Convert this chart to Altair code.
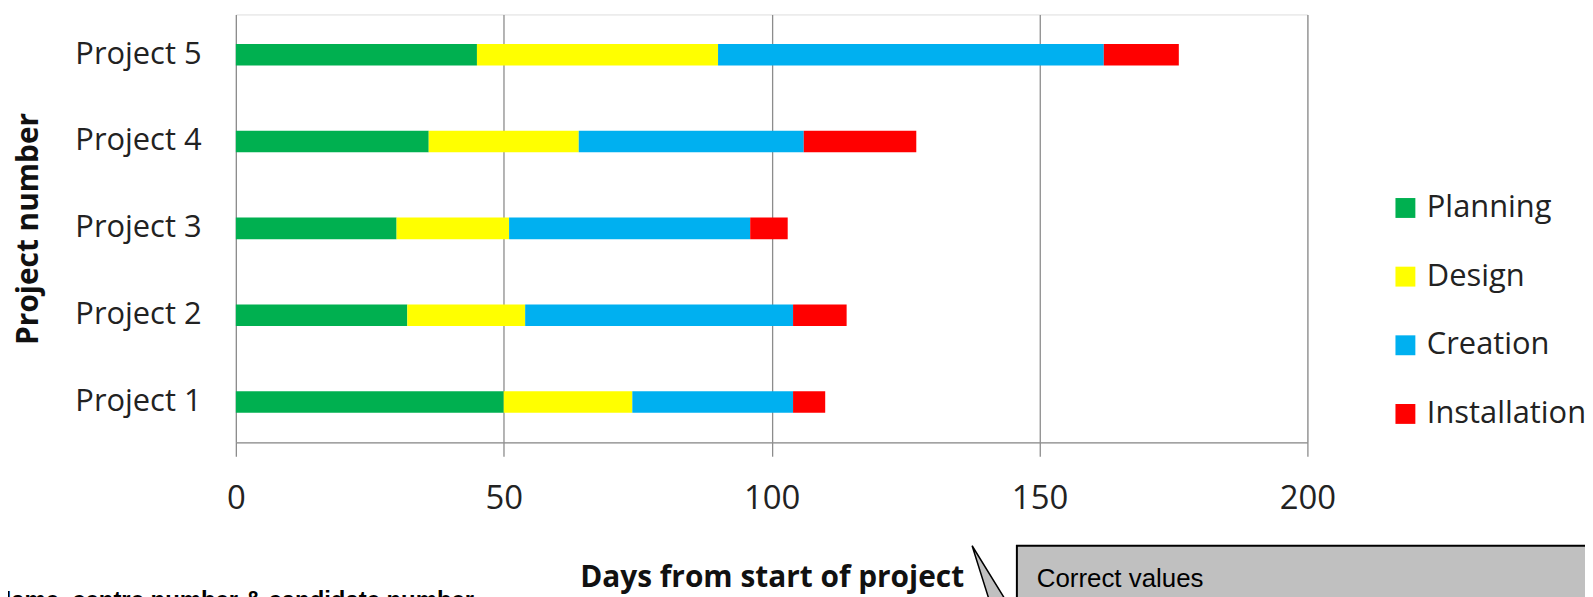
import altair as alt
import pandas as pd

projects = ["Project 1", "Project 2", "Project 3", "Project 4", "Project 5"]
phases = ["Planning", "Design", "Creation", "Installation"]
planning = [50, 32, 30, 36, 45]
design = [24, 22, 21, 28, 45]
creation = [30, 50, 45, 42, 72]
installation = [6, 10, 7, 21, 14]
phase_colors = ["#00B050", "#FFFF00", "#00B0F0", "#FF0000"]
x_ticks = [0, 50, 100, 150, 200]

series = [planning, design, creation, installation]
rows = []
for k, (ph, vals) in enumerate(zip(phases, series)):
    for p, v in zip(projects, vals):
        rows.append({"project": p, "phase": ph, "days": v, "order": k})
df = pd.DataFrame(rows)

FONT = "Open Sans"
GRID = "#8c8c8c"

bars = alt.Chart(df).mark_bar().encode(
    x=alt.X(
        "days:Q",
        stack="zero",
        scale=alt.Scale(domain=[0, 200], nice=False),
        axis=alt.Axis(
            values=x_ticks,
            title="Days from start of project",
            titleFont=FONT, titleFontSize=30, titleFontWeight="bold", titleColor="#111",
            titleY=145, titleBaseline="alphabetic",
            labelFont=FONT, labelFontSize=33, labelColor="#222", labelPadding=27,
            labelBaseline="top", labelFlush=False,
            grid=True, gridColor=GRID, gridWidth=1.3,
            domainColor=GRID, domainWidth=1.3,
            tickColor=GRID, tickWidth=1.3, tickSize=14,
        ),
    ),
    y=alt.Y(
        "project:N",
        sort=projects[::-1],
        scale=alt.Scale(paddingInner=0.7514, paddingOuter=0.339),
        axis=alt.Axis(
            title="Project number",
            titleFont=FONT, titleFontSize=30, titleFontWeight="bold", titleColor="#111",
            titleX=-199, titleY=215, titleAngle=270, titleAlign="center",
            titleBaseline="alphabetic",
            labelFont=FONT, labelFontSize=31, labelColor="#222", labelPadding=35,
            labelLimit=300,
            ticks=False, domain=False, grid=False,
        ),
    ),
    color=alt.Color(
        "phase:N",
        scale=alt.Scale(domain=phases, range=phase_colors),
        legend=alt.Legend(
            title=None, orient="none", legendX=1160, legendY=179,
            symbolType="square", symbolSize=400, symbolStrokeWidth=0,
            labelFont=FONT, labelFontSize=31, labelColor="#222",
            labelOffset=6, rowPadding=37, labelLimit=300,
        ),
    ),
    order=alt.Order("order:Q"),
)

one = alt.Data(values=[{"a": 1}])

wedge = alt.Chart(one).mark_point(
    shape="M0,0 L0.46,1.46 L0.9,1.46 Z", filled=True, fill="#c0c0c0",
    stroke="black", strokeWidth=1.5, opacity=1, size=10000,
).encode(x=alt.value(740), y=alt.value(534))

box = alt.Chart(one).mark_rect(
    fill="#c0c0c0", stroke="black", strokeWidth=2
).encode(x=alt.value(785), x2=alt.value(1400), y=alt.value(534), y2=alt.value(700))

txt1 = alt.Chart(one).mark_text(
    text="Correct values", font="Liberation Sans", fontSize=26, color="black",
    align="left", baseline="alphabetic",
).encode(x=alt.value(805), y=alt.value(575))

txt2 = alt.Chart(one).mark_text(
    text="Chart type", font="Liberation Sans", fontSize=26, color="black",
    align="left", baseline="alphabetic",
).encode(x=alt.value(805), y=alt.value(605))

name_txt = alt.Chart(one).mark_text(
    text="Name, centre number & candidate number", font="Liberation Sans",
    fontSize=24, fontWeight="bold", color="black",
    align="left", baseline="alphabetic",
).encode(x=alt.value(-243), y=alt.value(597))

chart = alt.layer(bars, wedge, box, txt1, txt2, name_txt).properties(
    width=1077, height=430,
    padding={"left": 229, "top": 5, "right": 279, "bottom": 154},
    autosize=alt.AutoSizeParams(type="none"),
).configure_view(stroke=None).configure(background="white")

chart.save("out.html", embed_options={"renderer": "svg", "actions": False})
